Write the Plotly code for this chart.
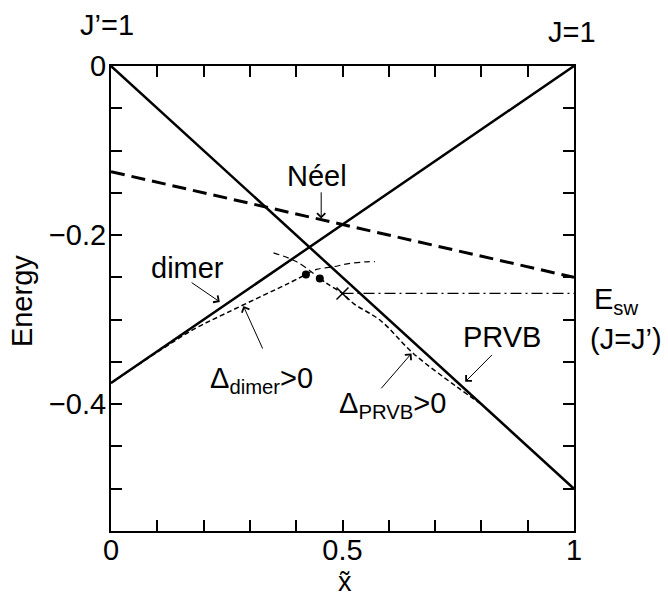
import plotly.graph_objects as go

# Straight-line energies of the three trial states between the two limits
x_ends = [0.0, 1.0]
prvb_energy = [0.0, -0.5]
dimer_energy = [-0.375, 0.0]
neel_energy = [-0.125, -0.25]

# Spin-wave energy at J = J'
esw_x = [0.5, 1.025]
esw_energy = [-0.269, -0.269]

# Curves with a finite gap (Delta > 0)
dimer_gap_x = [0.0, 0.1, 0.18, 0.25, 0.33, 0.38, 0.421]
dimer_gap_y = [-0.375, -0.3385, -0.311, -0.292, -0.271, -0.258, -0.2465]
dimer_ext_x = [0.421, 0.444, 0.48, 0.51, 0.552, 0.57]
dimer_ext_y = [-0.2465, -0.2406, -0.2375, -0.234, -0.2316, -0.2315]

prvb_ext_x = [0.351, 0.401, 0.451]
prvb_ext_y = [-0.221, -0.2316, -0.2513]
prvb_gap_x = [0.451, 0.466, 0.5, 0.524, 0.582, 0.653, 0.747, 0.80]
prvb_gap_y = [-0.2513, -0.2572, -0.269, -0.281, -0.301, -0.340, -0.3795, -0.400]

# Transition points
dots_x = [0.421, 0.451]
dots_y = [-0.2465, -0.2513]
cross_x = [0.5]
cross_y = [-0.269]

# Tick layout
x_ticks = [round(0.1 * i, 1) for i in range(11)]
x_ticktext = ["0" if v == 0 else "0.5" if v == 0.5 else "1" if v == 1 else "" for v in x_ticks]
y_ticks = [round(-0.05 * i, 2) for i in range(12)]
y_labels = {0.0: "0", -0.2: "\u22120.2", -0.4: "\u22120.4"}
y_ticktext = [y_labels.get(v, "") for v in y_ticks]

FONT = "Liberation Sans, Arial, sans-serif"
FS = 29

fig = go.Figure()

def line(x, y, width=2.5, dash="solid", clip=True, shape="linear"):
    fig.add_trace(go.Scatter(x=x, y=y, mode="lines", cliponaxis=clip,
                             line=dict(color="black", width=width, dash=dash, shape=shape),
                             showlegend=False, hoverinfo="skip"))

line(x_ends, prvb_energy)
line(x_ends, dimer_energy)
line(x_ends, neel_energy, width=3, dash="14px,7px")
line(esw_x, esw_energy, width=1.3, dash="11px,4px,2px,4px", clip=False)
line(dimer_gap_x, dimer_gap_y, width=1.5, dash="5px,3px", shape="spline")
line(dimer_ext_x, dimer_ext_y, width=1.2, dash="6px,4px", shape="spline")
line(prvb_ext_x, prvb_ext_y, width=1.2, dash="6px,4px", shape="spline")
line(prvb_gap_x, prvb_gap_y, width=1.5, dash="5px,3px", shape="spline")

fig.add_trace(go.Scatter(x=dots_x, y=dots_y, mode="markers",
                         marker=dict(color="black", size=8),
                         showlegend=False, hoverinfo="skip"))
fig.add_trace(go.Scatter(x=cross_x, y=cross_y, mode="markers",
                         marker=dict(symbol="x-thin", size=12,
                                     line=dict(color="black", width=1.5)),
                         showlegend=False, hoverinfo="skip"))

def text(x, y, s, ref="data", size=FS, xanchor="center", yanchor="middle", angle=0):
    xr, yr = ("x", "y") if ref == "data" else ("paper", "paper")
    fig.add_annotation(x=x, y=y, xref=xr, yref=yr, text=s, showarrow=False,
                       xanchor=xanchor, yanchor=yanchor, textangle=angle,
                       font=dict(family=FONT, size=size, color="black"))

def arrow(x0, y0, x1, y1):
    fig.add_annotation(x=x1, y=y1, ax=x0, ay=y0, xref="x", yref="y",
                       axref="x", ayref="y", text="", showarrow=True,
                       arrowhead=4, arrowsize=1.6, arrowwidth=1,
                       arrowcolor="black", standoff=0)

# Labels inside the frame
text(0.444, -0.130, "N\u00e9el")
text(0.166, -0.239, "dimer")
text(0.8445, -0.3204, "PRVB")
text(0.2095, -0.371, "\u0394<sub>dimer</sub>&gt;0", xanchor="left")
text(0.488, -0.401, "\u0394<sub>PRVB</sub>&gt;0", xanchor="left")

# Labels around the frame
text(-0.0086, 1.088, "J\u2019=1", ref="paper")
text(0.995, 1.074, "J=1", ref="paper")
text(1.039, 0.4516, "E<sub>sw</sub>", ref="paper", xanchor="left", yanchor="bottom")
text(1.113, 0.4516, "(J=J\u2019)", ref="paper", yanchor="top")
text(-0.192, 0.4946, "Energy", ref="paper", angle=-90)
text(0.505, -0.1462, "x\u0303", ref="paper", size=27, yanchor="bottom")

arrow(0.171, -0.255, 0.235, -0.279)
arrow(0.329, -0.336, 0.286, -0.284)
arrow(0.454, -0.1476, 0.454, -0.1804)
arrow(0.826, -0.340, 0.765, -0.3736)
arrow(0.581, -0.383, 0.649, -0.340)

axis_common = dict(showline=True, linecolor="black", linewidth=2, mirror="allticks",
                   ticks="inside", ticklen=11, tickwidth=2, tickcolor="black",
                   showgrid=False, zeroline=False,
                   tickfont=dict(family=FONT, size=FS, color="black"))

fig.update_xaxes(range=[0, 1], tickvals=x_ticks, ticktext=x_ticktext,
                 ticklabelstandoff=-8, **axis_common)
fig.update_yaxes(range=[-0.55, 0], tickvals=y_ticks, ticktext=y_ticktext,
                 ticklabelstandoff=-3, **axis_common)

fig.update_layout(width=668, height=599,
                  margin=dict(l=111, r=94, t=66, b=68),
                  plot_bgcolor="white", paper_bgcolor="white",
                  showlegend=False)

fig.write_html("out.html")
